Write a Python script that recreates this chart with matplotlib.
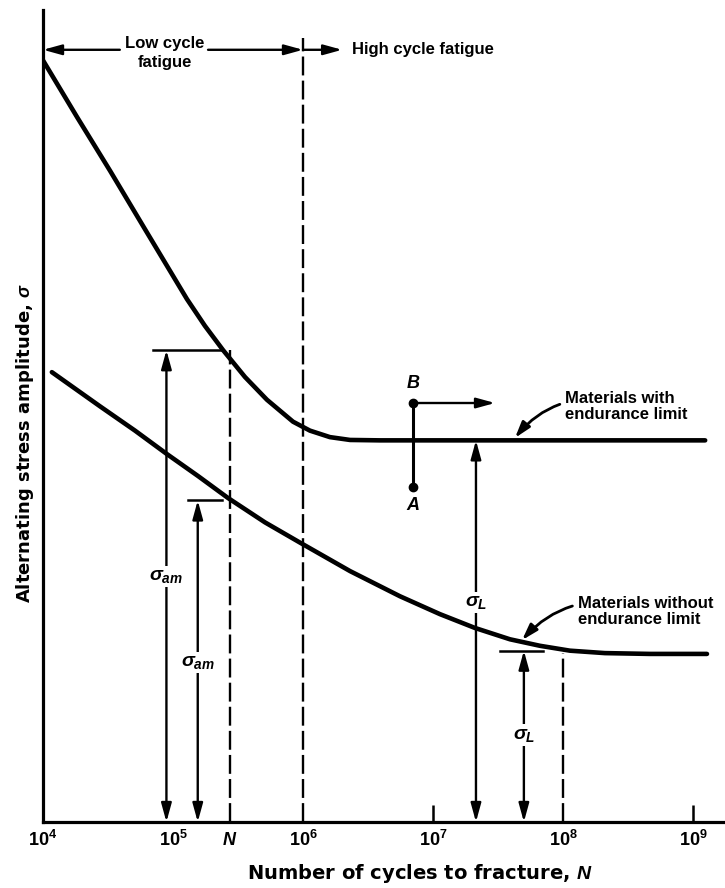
import matplotlib.pyplot as plt
from matplotlib.ticker import NullLocator

plt.rcParams['font.family'] = ['Liberation Sans', 'DejaVu Sans']
plt.rcParams['font.weight'] = 'bold'
plt.rcParams['axes.labelweight'] = 'bold'
plt.rcParams['mathtext.fontset'] = 'custom'
plt.rcParams['mathtext.rm'] = 'Liberation Sans:bold'
plt.rcParams['mathtext.it'] = 'Liberation Sans:italic:bold'
plt.rcParams['mathtext.bf'] = 'Liberation Sans:bold'

# S-N curve of a material with an endurance limit (cycles, stress amplitude)
upper_N = [1.0e4, 1.83e4, 3.28e4, 6.09e4, 1.28e5, 1.76e5, 2.43e5, 3.58e5,
           5.28e5, 8.38e5, 1.13e6, 1.61e6, 2.3e6, 3.91e6, 1.24e9]
upper_s = [93.8, 86.8, 80.2, 73.0, 64.4, 61.1, 58.1, 54.8,
           52.0, 49.3, 48.2, 47.4, 47.05, 47.0, 47.0]

# S-N curve of a material without an endurance limit
lower_N = [1.17e4, 2.74e4, 5.1e4, 9.0e4, 1.56e5, 2.65e5, 5.1e5, 9.5e5,
           2.3e6, 5.57e6, 1.13e7, 2.1e7, 3.91e7, 6.65e7, 1.13e8, 2.1e8,
           4.67e8, 1.28e9]
lower_s = [55.4, 51.2, 48.2, 45.3, 42.6, 39.9, 36.9, 34.4,
           30.9, 27.8, 25.6, 23.9, 22.5, 21.7, 21.1, 20.8,
           20.7, 20.7]

decades = [4, 5, 6, 7, 8, 9]
tick_labels = [r'$10^{%d}$' % d for d in decades]
visible_ticks = [7, 9]

# characteristic points of the diagram
N_mark = 2.75e5            # the life N
N_transition = 1.0e6       # low / high cycle fatigue boundary
N_limit_lower = 1.0e8      # life at which the lower fatigue strength is quoted
sigma_am_upper = 58.1
sigma_am_lower = 39.6
sigma_L_upper = 47.0
sigma_L_lower = 21.1
point_B = (7.0e6, 51.6)
point_A = (7.0e6, 41.3)

fig = plt.figure(figsize=(7.25, 8.88), dpi=100)
ax = fig.add_axes([43 / 725, 66 / 888, 682 / 725, 812 / 888])
ax.set_xscale('log')
ax.set_xlim(1e4, 10 ** 9.246)
ax.set_ylim(0, 100)

for side in ('top', 'right'):
    ax.spines[side].set_visible(False)
for side in ('left', 'bottom'):
    ax.spines[side].set_linewidth(2.3)

ax.set_yticks([])
ax.set_xticks([10.0 ** d for d in decades])
ax.set_xticklabels(tick_labels)
ax.xaxis.set_minor_locator(NullLocator())
ax.tick_params(axis='x', direction='in', length=12, width=1.8, pad=6,
               labelsize=13)
for d, tick in zip(decades, ax.xaxis.get_major_ticks()):
    tick.tick1line.set_visible(d in visible_ticks)

ax.set_xlabel('Number of cycles to fracture, $N$', fontsize=14,
              fontfamily='DejaVu Sans')
ax.xaxis.set_label_coords(0.553, -0.049)
ax.set_ylabel(r'Alternating stress amplitude, $\sigma$', fontsize=13,
              fontfamily='DejaVu Sans')
ax.yaxis.set_label_coords(-0.0103, 0.467)

# the two curves
ax.plot(upper_N, upper_s, color='black', lw=3.3, solid_capstyle='round',
        solid_joinstyle='round')
ax.plot(lower_N, lower_s, color='black', lw=3.3, solid_capstyle='round',
        solid_joinstyle='round')

dash_kw = dict(color='black', lw=1.7, dashes=(8, 2.2))
ax.plot([N_mark, N_mark], [0, sigma_am_upper], **dash_kw)
ax.plot([N_transition, N_transition], [0, 96.6], **dash_kw)
ax.plot([N_limit_lower, N_limit_lower], [0, 20.8], **dash_kw)

arrow_kw = dict(arrowstyle='<|-|>,head_length=0.8,head_width=0.22',
                color='black', lw=1.7, shrinkA=0, shrinkB=0,
                mutation_scale=14)
one_way = dict(arrow_kw, arrowstyle='-|>,head_length=0.8,head_width=0.22')
label_box = dict(facecolor='white', edgecolor='none', pad=1.5)


def amplitude_arrow(x, top, label, label_y, x0=None, x1=None):
    ax.annotate('', xy=(x, 0), xytext=(x, top), arrowprops=arrow_kw)
    if x0 is not None:
        ax.plot([x0, x1], [top, top], color='black', lw=1.8)
    ax.text(x, label_y, label, ha='center', va='center', fontsize=14,
            bbox=label_box)


amplitude_arrow(8.9e4, sigma_am_upper, r'$\sigma_{am}$', 30.2, 7.0e4, 2.43e5)
amplitude_arrow(1.55e5, sigma_am_lower, r'$\sigma_{am}$', 19.6, 1.3e5, 2.4e5)
amplitude_arrow(5.0e7, sigma_L_lower, r'$\sigma_L$', 10.7, 3.27e7, 7.0e7)
amplitude_arrow(2.14e7, sigma_L_upper, r'$\sigma_L$', 27.0)

# loading path from A to B and beyond
ax.plot([point_A[0], point_B[0]], [point_A[1], point_B[1]], color='black',
        lw=2.2)
ax.plot(*zip(point_A, point_B), 'o', color='black', ms=6)
ax.annotate('', xy=(3.0e7, point_B[1]), xytext=point_B, arrowprops=one_way)
ax.text(point_B[0], point_B[1] + 2.4, '$B$', ha='center', va='center',
        fontsize=13)
ax.text(point_A[0], point_A[1] - 2.3, '$A$', ha='center', va='center',
        fontsize=13)

# low / high cycle fatigue regions
y_reg = 95.1
ax.annotate('', xy=(1.0e4, y_reg), xytext=(3.9e4, y_reg), arrowprops=one_way)
ax.annotate('', xy=(N_transition, y_reg), xytext=(1.86e5, y_reg),
            arrowprops=one_way)
ax.annotate('', xy=(2.0e6, y_reg), xytext=(N_transition, y_reg),
            arrowprops=one_way)
ax.text(8.7e4, 94.7, 'Low cycle\nfatigue', ha='center', va='center',
        fontsize=12, linespacing=1.3)
ax.text(2.38e6, y_reg, 'High cycle fatigue', ha='left', va='center',
        fontsize=12)

# curve labels
curve_arrow = dict(arrowstyle='-|>,head_length=0.8,head_width=0.25',
                   color='black', lw=2.0, shrinkA=2, shrinkB=0,
                   connectionstyle='arc3,rad=0.35', mutation_scale=12)
ax.annotate('Materials with\nendurance limit', xy=(4.27e7, 47.3),
            xytext=(1.04e8, 51.2), ha='left', va='center', fontsize=12,
            linespacing=1.1, arrowprops=curve_arrow)
ax.annotate('Materials without\nendurance limit', xy=(4.84e7, 22.4),
            xytext=(1.3e8, 25.9), ha='left', va='center', fontsize=12,
            linespacing=1.1, arrowprops=curve_arrow)

# life N marked on the axis
ax.text(N_mark, -0.012, '$N$', transform=ax.get_xaxis_transform(),
        ha='center', va='top', fontsize=13)

fig.savefig('out.png', dpi=100)
